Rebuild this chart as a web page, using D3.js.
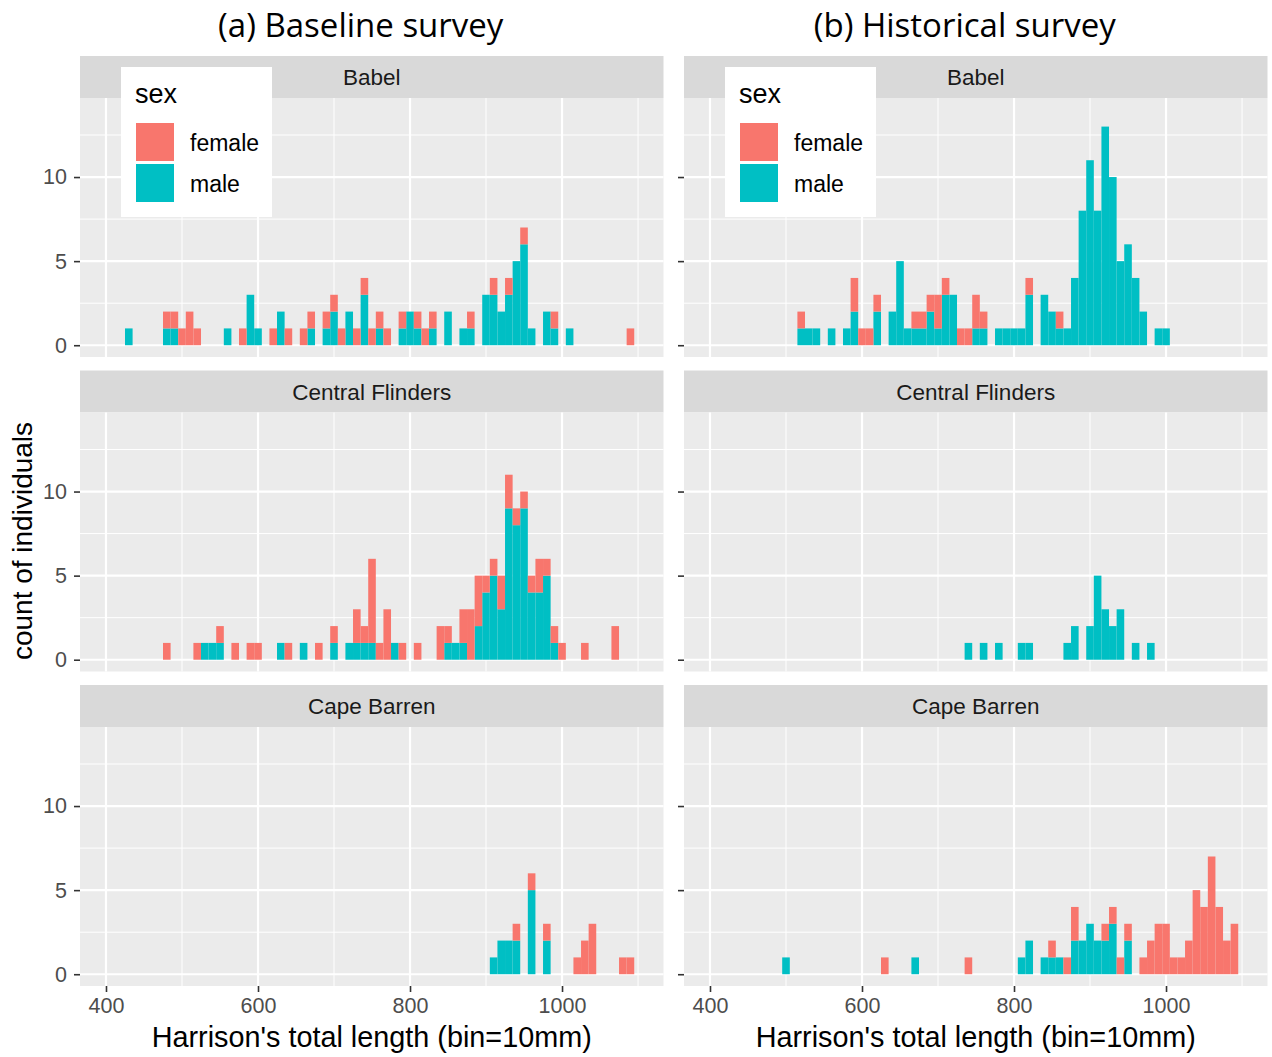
<!DOCTYPE html>
<html>
<head>
<meta charset="utf-8">
<script src="https://cdn.jsdelivr.net/npm/d3@7"></script>
<style>
  body { margin: 0; background: #fff; }
  text { font-family: "Liberation Sans", Arial, sans-serif; }
</style>
</head>
<body>
<svg id="chart" width="1272" height="1057"></svg>
<script>
const sexes = ['female', 'male']
const sexColours = ['#F8766D', '#00BFC4']
const sites = ['Babel', 'Central Flinders', 'Cape Barren']
const surveys = ['(a) Baseline survey', '(b) Historical survey']
const xTicks = [400, 600, 800, 1000]
const xMinor = [500, 700, 900, 1100]
const yTicks = [0, 5, 10]
const yMinor = [2.5, 7.5, 12.5]
const binWidth = 10

// [bin centre (mm), female, male]
const baselineBabel = [
  [430, 0, 1], [480, 1, 1], [490, 1, 1], [500, 1, 0], [510, 2, 0], [520, 1, 0],
  [560, 0, 1], [580, 1, 0], [590, 0, 3], [600, 0, 1], [620, 1, 0], [630, 0, 2],
  [640, 1, 0], [660, 1, 0], [670, 1, 1], [690, 1, 1], [700, 1, 2], [710, 1, 0],
  [720, 0, 2], [730, 1, 0], [740, 1, 3], [750, 1, 0], [760, 1, 1], [770, 1, 0],
  [790, 1, 1], [800, 0, 2], [810, 1, 1], [820, 1, 0], [830, 1, 1], [850, 0, 2],
  [870, 0, 1], [880, 1, 1], [900, 0, 3], [910, 1, 3], [920, 0, 2], [930, 1, 3],
  [940, 0, 5], [950, 1, 6], [960, 0, 1], [980, 0, 2], [990, 1, 1], [1010, 0, 1],
  [1090, 1, 0]
]
const baselineFlinders = [
  [480, 1, 0], [520, 1, 0], [530, 0, 1], [540, 0, 1], [550, 1, 1], [570, 1, 0],
  [590, 1, 0], [600, 1, 0], [630, 0, 1], [640, 1, 0], [660, 0, 1], [680, 1, 0],
  [700, 1, 1], [720, 0, 1], [730, 2, 1], [740, 1, 1], [750, 5, 1], [760, 1, 0],
  [770, 3, 0], [780, 0, 1], [790, 1, 0], [810, 1, 0], [840, 2, 0], [850, 1, 1],
  [860, 0, 1], [870, 2, 1], [880, 3, 0], [890, 3, 2], [900, 1, 4], [910, 1, 5],
  [920, 2, 3], [930, 2, 9], [940, 1, 8], [950, 1, 9], [960, 1, 4], [970, 2, 4],
  [980, 1, 5], [990, 1, 1], [1000, 1, 0], [1030, 1, 0], [1070, 2, 0]
]
const baselineBarren = [
  [910, 0, 1], [920, 0, 2], [930, 0, 2], [940, 1, 2], [960, 1, 5], [980, 1, 2],
  [1020, 1, 0], [1030, 2, 0], [1040, 3, 0], [1080, 1, 0], [1090, 1, 0]
]
const historicalBabel = [
  [520, 1, 1], [530, 0, 1], [540, 0, 1], [560, 0, 1], [580, 0, 1], [590, 2, 2],
  [600, 1, 0], [610, 1, 0], [620, 1, 2], [640, 0, 2], [650, 0, 5], [660, 0, 1],
  [670, 1, 1], [680, 1, 1], [690, 1, 2], [700, 2, 1], [710, 1, 3], [720, 0, 3],
  [730, 1, 0], [740, 1, 0], [750, 2, 1], [760, 1, 1], [780, 0, 1], [790, 0, 1],
  [800, 0, 1], [810, 0, 1], [820, 1, 3], [840, 0, 3], [850, 0, 2], [860, 1, 1],
  [870, 0, 1], [880, 0, 4], [890, 0, 8], [900, 0, 11], [910, 0, 8], [920, 0, 13],
  [930, 0, 10], [940, 0, 5], [950, 0, 6], [960, 0, 4], [970, 0, 2], [990, 0, 1],
  [1000, 0, 1]
]
const historicalFlinders = [
  [740, 0, 1], [760, 0, 1], [780, 0, 1], [810, 0, 1], [820, 0, 1], [870, 0, 1],
  [880, 0, 2], [900, 0, 2], [910, 0, 5], [920, 0, 3], [930, 0, 2], [940, 0, 3],
  [960, 0, 1], [980, 0, 1]
]
const historicalBarren = [
  [500, 0, 1], [630, 1, 0], [670, 0, 1], [740, 1, 0], [810, 0, 1], [820, 0, 2],
  [840, 0, 1], [850, 1, 1], [860, 0, 1], [870, 1, 0], [880, 2, 2], [890, 0, 2],
  [900, 0, 3], [910, 0, 2], [920, 1, 2], [930, 1, 3], [940, 1, 0], [950, 1, 2],
  [970, 1, 0], [980, 2, 0], [990, 3, 0], [1000, 3, 0], [1010, 1, 0], [1020, 1, 0],
  [1030, 2, 0], [1040, 5, 0], [1050, 4, 0], [1060, 7, 0], [1070, 4, 0], [1080, 2, 0],
  [1090, 3, 0]
]

const facetData = [
  [baselineBabel, baselineFlinders, baselineBarren],
  [historicalBabel, historicalFlinders, historicalBarren]
]

const svg = d3.select('#chart')
svg.append('rect').attr('width', 1272).attr('height', 1057).attr('fill', '#fff')

const panelLefts = [80, 684]
const panelWidth = 583.5
const panelHeight = 259
const stripHeight = 42
const facetStep = 314.5
const firstPanelTop = 98

const colour = d3.scaleOrdinal().domain(sexes).range(sexColours)
const stack = d3.stack().keys(['male', 'female'])

surveys.forEach((title, s) => {
  const left = panelLefts[s]
  const x = d3.scaleLinear().domain([365.8, 1133.5]).range([left, left + panelWidth])

  svg.append('text')
    .attr('x', left + panelWidth / 2 - 11).attr('y', 37)
    .attr('text-anchor', 'middle')
    .style('font-family', '"Open Sans", "Noto Sans", sans-serif')
    .style('font-size', '33px').attr('fill', '#000')
    .text(title)

  sites.forEach((site, i) => {
    const top = firstPanelTop + i * facetStep
    const y = d3.scaleLinear().domain([-0.7, 14.7]).range([top + panelHeight, top])
    const g = svg.append('g')

    // strip
    g.append('rect')
      .attr('x', left).attr('y', top - stripHeight)
      .attr('width', panelWidth).attr('height', stripHeight)
      .attr('fill', '#D9D9D9')
    g.append('text')
      .attr('x', left + panelWidth / 2).attr('y', top - stripHeight / 2 + 8)
      .attr('text-anchor', 'middle')
      .style('font-size', '22.5px').attr('fill', '#1A1A1A')
      .text(site)

    // panel and grid
    g.append('rect')
      .attr('x', left).attr('y', top)
      .attr('width', panelWidth).attr('height', panelHeight)
      .attr('fill', '#EBEBEB')
    g.selectAll('.ymin').data(yMinor).join('line')
      .attr('x1', left).attr('x2', left + panelWidth)
      .attr('y1', d => y(d)).attr('y2', d => y(d))
      .attr('stroke', '#fff').attr('stroke-width', 1)
    g.selectAll('.xmin').data(xMinor).join('line')
      .attr('y1', top).attr('y2', top + panelHeight)
      .attr('x1', d => x(d)).attr('x2', d => x(d))
      .attr('stroke', '#fff').attr('stroke-width', 1)
    g.selectAll('.ymaj').data(yTicks).join('line')
      .attr('x1', left).attr('x2', left + panelWidth)
      .attr('y1', d => y(d)).attr('y2', d => y(d))
      .attr('stroke', '#fff').attr('stroke-width', 2.2)
    g.selectAll('.xmaj').data(xTicks).join('line')
      .attr('y1', top).attr('y2', top + panelHeight)
      .attr('x1', d => x(d)).attr('x2', d => x(d))
      .attr('stroke', '#fff').attr('stroke-width', 2.2)

    // stacked bars: male at bottom, female on top
    const rows = facetData[s][i].map(([mid, female, male]) => ({ mid, female, male }))
    const layers = stack(rows)
    g.selectAll('g.layer').data(layers).join('g')
      .attr('class', 'layer')
      .attr('fill', d => colour(d.key))
      .selectAll('rect').data(d => d.filter(p => p[1] > p[0])).join('rect')
      .attr('x', d => x(d.data.mid - binWidth / 2))
      .attr('width', d => x(d.data.mid + binWidth / 2) - x(d.data.mid - binWidth / 2))
      .attr('y', d => y(d[1]))
      .attr('height', d => y(d[0]) - y(d[1]))

    // y axis
    const yAxis = g.append('g')
      .attr('transform', `translate(${left},0)`)
      .call(d3.axisLeft(y).tickValues(yTicks).tickSize(6).tickPadding(7)
        .tickFormat(s === 0 ? d3.format('d') : () => ''))
    yAxis.select('.domain').remove()
    yAxis.selectAll('line').attr('stroke', '#333').attr('stroke-width', 1.6)
    yAxis.selectAll('text').style('font-size', '21.5px').attr('fill', '#4D4D4D')
      .style('font-family', '"Liberation Sans", Arial, sans-serif')

    if (i === sites.length - 1) {
      const xAxis = g.append('g')
        .attr('transform', `translate(0,${top + panelHeight})`)
        .call(d3.axisBottom(x).tickValues(xTicks).tickFormat(d3.format('d'))
          .tickSize(6).tickPadding(6))
      xAxis.select('.domain').remove()
      xAxis.selectAll('line').attr('stroke', '#333').attr('stroke-width', 1.6)
      xAxis.selectAll('text').style('font-size', '21.5px').attr('fill', '#4D4D4D')
        .style('font-family', '"Liberation Sans", Arial, sans-serif')

      svg.append('text')
        .attr('x', left + panelWidth / 2).attr('y', 1047)
        .attr('text-anchor', 'middle')
        .style('font-size', '28.8px').attr('fill', '#000')
        .text("Harrison's total length (bin=10mm)")
    }
  })

  // legend inside the top facet
  const lg = svg.append('g').attr('transform', `translate(${left + 41},67)`)
  lg.append('rect').attr('width', 151).attr('height', 150).attr('fill', '#fff')
  lg.append('text').attr('x', 14).attr('y', 36)
    .style('font-size', '27px').attr('fill', '#000').text('sex')
  sexes.forEach((sex, k) => {
    lg.append('rect')
      .attr('x', 15).attr('y', 56 + k * 41)
      .attr('width', 38).attr('height', 38)
      .attr('fill', colour(sex))
    lg.append('text')
      .attr('x', 69).attr('y', 84 + k * 41)
      .style('font-size', '23px').attr('fill', '#000').text(sex)
  })
})

svg.append('text')
  .attr('transform', 'translate(32,541) rotate(-90)')
  .attr('text-anchor', 'middle')
  .style('font-size', '28px').attr('fill', '#000')
  .text('count of individuals')
</script>
</body>
</html>
